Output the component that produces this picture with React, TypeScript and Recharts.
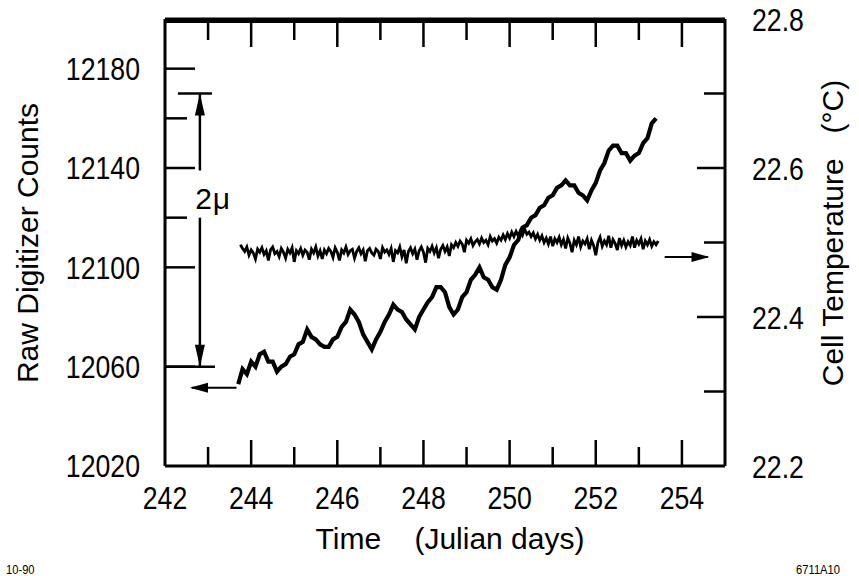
import { LineChart, Line, XAxis, YAxis, ReferenceLine, ReferenceDot, CartesianGrid } from 'recharts'

const FONT = '"Liberation Sans", Arial, sans-serif'
const NARROW = 0.86

// axes
const DAY_TICKS = [242, 243, 244, 245, 246, 247, 248, 249, 250, 251, 252, 253, 254, 255]
const DAY_LABELS = [242, 244, 246, 248, 250, 252, 254]
const COUNT_TICKS = [12020, 12060, 12100, 12120, 12140, 12160, 12180]
const COUNT_LABELS = [12020, 12060, 12100, 12140, 12180]
const TEMP_TICKS = [22.2, 22.3, 22.4, 22.5, 22.6, 22.7, 22.8]
const TEMP_LABELS = [22.2, 22.4, 22.6, 22.8]

// raw digitizer counts, sampled every 0.1 day from 243.7
const COUNT_START = 243.7
const COUNT_STEP = 0.1
const COUNTS = [
  12053, 12059, 12057, 12062, 12060, 12065, 12066, 12062, 12062, 12058,
  12060, 12061, 12064, 12065, 12069, 12070, 12075, 12072, 12071, 12069,
  12068, 12068, 12071, 12072, 12076, 12078, 12083, 12081, 12078, 12073,
  12070, 12067, 12071, 12074, 12078, 12081, 12085, 12083, 12082, 12079,
  12077, 12075, 12080, 12083, 12086, 12088, 12092, 12092, 12090, 12084,
  12081, 12083, 12088, 12090, 12095, 12097, 12100, 12096, 12095, 12092,
  12091, 12095, 12101, 12104, 12109, 12111, 12116, 12117, 12120, 12121,
  12124, 12125, 12128, 12129, 12132, 12133, 12135, 12133, 12133, 12130,
  12129, 12127, 12131, 12134, 12139, 12142, 12147, 12149, 12149, 12146,
  12146, 12143, 12145, 12146, 12150, 12152, 12158, 12160,
]

// cell temperature (°C), sampled every 0.05 day from 243.75
const TEMP_START = 243.75
const TEMP_STEP = 0.05
const TEMPS = [
  22.497, 22.492, 22.488, 22.494, 22.483, 22.490, 22.486, 22.478, 22.491, 22.487,
  22.493, 22.484, 22.489, 22.476, 22.490, 22.494, 22.485, 22.488, 22.481, 22.492,
  22.487, 22.479, 22.491, 22.486, 22.493, 22.474, 22.489, 22.485, 22.492, 22.483,
  22.490, 22.487, 22.477, 22.491, 22.486, 22.494, 22.482, 22.489, 22.478, 22.490,
  22.485, 22.492, 22.488, 22.480, 22.493, 22.487, 22.476, 22.490, 22.486, 22.494,
  22.484, 22.489, 22.491, 22.479, 22.488, 22.493, 22.485, 22.490, 22.475, 22.489,
  22.492, 22.486, 22.483, 22.491, 22.488, 22.478, 22.493, 22.487, 22.490, 22.484,
  22.492, 22.474, 22.489, 22.486, 22.494, 22.481, 22.490, 22.472, 22.488, 22.493,
  22.485, 22.491, 22.477, 22.489, 22.494, 22.487, 22.473, 22.492, 22.488, 22.495,
  22.486, 22.493, 22.479, 22.491, 22.496, 22.488, 22.494, 22.482, 22.497, 22.493,
  22.500, 22.495, 22.502, 22.498, 22.487, 22.503, 22.499, 22.505, 22.496, 22.501,
  22.504, 22.498, 22.506, 22.500, 22.503, 22.497, 22.508, 22.502, 22.505, 22.499,
  22.507, 22.503, 22.510, 22.504, 22.512, 22.506, 22.514, 22.508, 22.515, 22.509,
  22.516, 22.510, 22.518, 22.511, 22.514, 22.508, 22.513, 22.505, 22.511, 22.503,
  22.509, 22.500, 22.506, 22.498, 22.508, 22.495, 22.505, 22.500, 22.507, 22.497,
  22.504, 22.492, 22.506, 22.499, 22.487, 22.503, 22.497, 22.508, 22.494, 22.502,
  22.498, 22.505, 22.491, 22.503, 22.496, 22.483, 22.500, 22.507, 22.495, 22.502,
  22.497, 22.509, 22.493, 22.504, 22.499, 22.490, 22.506, 22.496, 22.503, 22.494,
  22.501, 22.496, 22.508, 22.493, 22.503, 22.498, 22.505, 22.491, 22.502, 22.497,
  22.504, 22.495, 22.501, 22.497, 22.502,
]

const countData = COUNTS.map((c, i) => ({ day: +(COUNT_START + i * COUNT_STEP).toFixed(2), counts: c }))
const tempData = TEMPS.map((t, i) => ({ day: +(TEMP_START + i * TEMP_STEP).toFixed(2), temp: t }))

const has = (list: number[], v: number) => list.some((l) => Math.abs(l - v) < 1e-6)

const TICK_FONT = 31
const TITLE_FONT = 30
const STROKE = 2.5
// counts per pixel on the left axis (180 counts over 447 px)
const CPP = 180 / 447
// just inside the top of the count axis, so reference marks there are not discarded
const TOP_EDGE = 12199

// condensed-looking text: squeeze Liberation Sans horizontally
function NText({ x, y, anchor = 'start', size = TICK_FONT, dy, rotate = false, squeeze = NARROW, spacing, children }: any) {
  return (
    <text
      transform={`translate(${x},${y})${rotate ? ' rotate(-90)' : ''} scale(${squeeze},1)`}
      textAnchor={anchor}
      dy={dy}
      fontFamily={FONT}
      fontSize={size}
      letterSpacing={spacing}
      fill="#000"
    >
      {children}
    </text>
  )
}

function LeftTick(props: any) {
  const { x, y, payload } = props
  const v = payload.value
  const major = has(COUNT_LABELS, v)
  const len = v === 12020 ? 0 : major ? 30 : 22
  return (
    <g>
      <line x1={x + 25} x2={x + 25 + len} y1={y} y2={y} stroke="#000" strokeWidth={STROKE} />
      {major && (
        <NText x={x} y={y} dy="0.36em" anchor="end">
          {v}
        </NText>
      )}
    </g>
  )
}

function RightTick(props: any) {
  const { x, y, payload } = props
  const v = payload.value
  const label = has(TEMP_LABELS, v)
  const corner = Math.abs(v - 22.2) < 1e-6 || Math.abs(v - 22.8) < 1e-6
  const len = corner ? 0 : label ? 28 : 21
  return (
    <g>
      <line x1={x - 27} x2={x - 27 - len} y1={y} y2={y} stroke="#000" strokeWidth={STROKE} />
      {label && (
        <NText x={x} y={y} dy="0.4em">
          {v.toFixed(1)}
        </NText>
      )}
    </g>
  )
}

function BottomTick(props: any) {
  const { x, y, payload } = props
  const v = payload.value
  const major = v % 2 === 0
  const len = v === 242 || v === 255 ? 0 : major ? 26 : 19
  return (
    <g>
      <line x1={x} x2={x} y1={y - 20} y2={y - 20 - len} stroke="#000" strokeWidth={STROKE} />
      {has(DAY_LABELS, v) && (
        <NText x={x} y={y} dy="0.75em" anchor="middle">
          {v}
        </NText>
      )}
    </g>
  )
}

const arrowUp = (p: any) => <path d={`M${p.cx},${p.cy} l-5,22 l10,0 z`} fill="#000" />
const arrowDown = (p: any) => <path d={`M${p.cx},${p.cy} l-5,-22 l10,0 z`} fill="#000" />
const arrowLeft = (p: any) => <path d={`M${p.cx},${p.cy} l18,-5 l0,10 z`} fill="#000" />
const arrowRight = (p: any) => <path d={`M${p.cx},${p.cy} l-18,-5 l0,10 z`} fill="#000" />
const muLabel = (p: any) => (
  <NText x={p.cx} y={p.cy} dy="0.36em" size={30} squeeze={1} spacing={1}>
    2μ
  </NText>
)

const SP4 = '\u00A0\u00A0\u00A0\u00A0'
const SP3 = '\u00A0\u00A0\u00A0'

export default function App() {
  return (
    <div style={{ position: 'absolute', left: 0, top: 0, width: 859, height: 576, background: '#fff' }}>
      <LineChart width={859} height={576} margin={{ top: 19, right: 0, bottom: 0, left: 0 }}>
        <CartesianGrid yAxisId="left" vertical={false} horizontalValues={[12200]} stroke="#000" strokeWidth={3} />
        <XAxis
          xAxisId="bottom"
          dataKey="day"
          type="number"
          domain={[242, 255]}
          ticks={DAY_TICKS}
          interval={0}
          height={110}
          tickLine={false}
          tickSize={0}
          tickMargin={20}
          tick={<BottomTick />}
          axisLine={{ stroke: '#000', strokeWidth: 3 }}
          allowDataOverflow
        />
        <YAxis
          yAxisId="left"
          type="number"
          domain={[12020, 12200]}
          ticks={COUNT_TICKS}
          interval={0}
          width={165}
          tickLine={false}
          tickSize={0}
          tickMargin={25}
          tick={<LeftTick />}
          axisLine={{ stroke: '#000', strokeWidth: 3 }}
          allowDataOverflow
        />
        <YAxis
          yAxisId="right"
          orientation="right"
          type="number"
          domain={[22.2, 22.8]}
          ticks={TEMP_TICKS}
          interval={0}
          width={134}
          tickLine={false}
          tickSize={0}
          tickMargin={27}
          tick={<RightTick />}
          axisLine={{ stroke: '#000', strokeWidth: 3 }}
          allowDataOverflow
        />

        {/* top edge of the frame and its inward ticks */}
        <ReferenceLine xAxisId="bottom" yAxisId="left" y={TOP_EDGE} stroke="#000" strokeWidth={3} />
        {DAY_TICKS.slice(1, -1).map((d) => (
          <ReferenceLine
            key={d}
            xAxisId="bottom"
            yAxisId="left"
            segment={[{ x: d, y: TOP_EDGE }, { x: d, y: 12200 - (d % 2 === 0 ? 28 : 21) * CPP }]}
            stroke="#000"
            strokeWidth={STROKE}
          />
        ))}

        <Line
          data={tempData}
          dataKey="temp"
          xAxisId="bottom"
          yAxisId="right"
          type="linear"
          stroke="#000"
          strokeWidth={2.8}
          dot={false}
          isAnimationActive={false}
        />
        <Line
          data={countData}
          dataKey="counts"
          xAxisId="bottom"
          yAxisId="left"
          type="linear"
          stroke="#000"
          strokeWidth={4.2}
          dot={false}
          isAnimationActive={false}
        />

        {/* 2μ span marker */}
        <ReferenceLine xAxisId="bottom" yAxisId="left" segment={[{ x: 242.3, y: 12170 }, { x: 243.09, y: 12170 }]} stroke="#000" strokeWidth={2.5} />
        <ReferenceLine xAxisId="bottom" yAxisId="left" segment={[{ x: 242, y: 12060 }, { x: 243.16, y: 12060 }]} stroke="#000" strokeWidth={2.5} />
        <ReferenceLine xAxisId="bottom" yAxisId="left" segment={[{ x: 242.81, y: 12170 }, { x: 242.81, y: 12139 }]} stroke="#000" strokeWidth={2.5} />
        <ReferenceLine xAxisId="bottom" yAxisId="left" segment={[{ x: 242.81, y: 12120 }, { x: 242.81, y: 12060 }]} stroke="#000" strokeWidth={2.5} />
        <ReferenceDot xAxisId="bottom" yAxisId="left" x={242.81} y={12170} r={0} shape={arrowUp} />
        <ReferenceDot xAxisId="bottom" yAxisId="left" x={242.81} y={12060} r={0} shape={arrowDown} />
        <ReferenceDot xAxisId="bottom" yAxisId="left" x={242.7} y={12128} r={0} shape={muLabel} />

        {/* axis pointers */}
        <ReferenceLine xAxisId="bottom" yAxisId="left" segment={[{ x: 242.62, y: 12051.5 }, { x: 243.66, y: 12051.5 }]} stroke="#000" strokeWidth={2} />
        <ReferenceDot xAxisId="bottom" yAxisId="left" x={242.58} y={12051.5} r={0} shape={arrowLeft} />
        <ReferenceLine xAxisId="bottom" yAxisId="right" segment={[{ x: 253.6, y: 22.4805 }, { x: 254.6, y: 22.4805 }]} stroke="#000" strokeWidth={2} />
        <ReferenceDot xAxisId="bottom" yAxisId="right" x={254.64} y={22.4805} r={0} shape={arrowRight} />
      </LineChart>

      <svg width={859} height={576} style={{ position: 'absolute', left: 0, top: 0, pointerEvents: 'none' }}>
        <NText x={38} y={243} rotate anchor="middle" size={TITLE_FONT} squeeze={1}>
          Raw Digitizer Counts
        </NText>
        <NText x={843} y={233} rotate anchor="middle" size={TITLE_FONT} squeeze={1}>
          {`Cell Temperature${SP3}(°C)`}
        </NText>
        <NText x={450} y={549} anchor="middle" size={TITLE_FONT} squeeze={1}>
          {`Time${SP4}(Julian days)`}
        </NText>
        <NText x={6} y={574} size={13}>
          10-90
        </NText>
        <NText x={840} y={574} anchor="end" size={13}>
          6711A10
        </NText>
      </svg>
    </div>
  )
}
